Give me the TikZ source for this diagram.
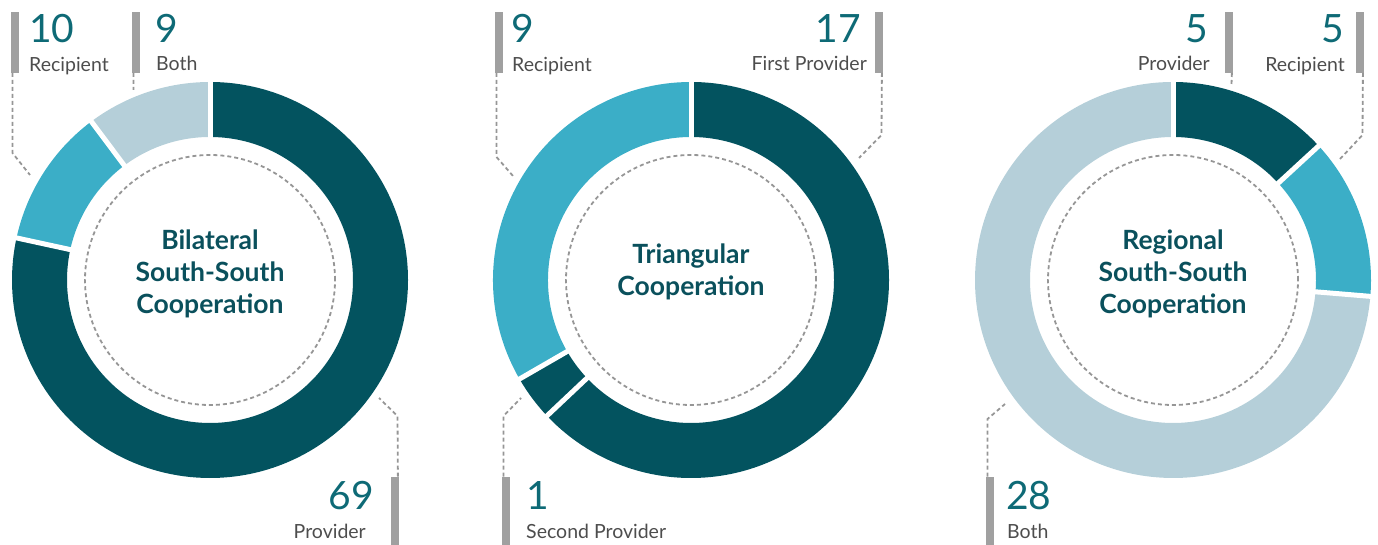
\documentclass[tikz,border=0pt]{standalone}
\usepackage{fontspec}
\setmainfont{Lato}[BoldFeatures={Ligatures=Rare}]
\usepackage{tikz}
\definecolor{ringdark}{HTML}{03535F}
\definecolor{ringmid}{HTML}{3BAEC7}
\definecolor{ringpale}{HTML}{B5CFD9}
\definecolor{titlecol}{HTML}{0A505C}
\definecolor{numcol}{HTML}{0E6A76}
\definecolor{labcol}{HTML}{4D4D4D}
\definecolor{barcol}{HTML}{A0A0A0}
\definecolor{dashcol}{HTML}{969696}
\tikzset{
  seg/.style={line width=55bp},
  cut/.style={white,line width=5bp},
  leader/.style={dashcol,dash pattern=on 4bp off 3bp,line width=1.8bp},
  tbar/.style={fill=barcol,inner sep=0pt,minimum width=8bp,minimum height=61bp,anchor=south west},
  bbar/.style={fill=barcol,inner sep=0pt,minimum width=8bp,minimum height=68bp,anchor=south west},
  num/.style={numcol,inner sep=0pt,font=\fontsize{39bp}{39bp}\selectfont},
  lab/.style={labcol,inner sep=0pt,font=\fontsize{19.5bp}{20bp}\selectfont},
  title/.style={titlecol,align=center,inner sep=0pt,font=\fontsize{26.5bp}{32bp}\selectfont\bfseries}
}
\begin{document}
\begin{tikzpicture}[x=1bp,y=1bp]
%\draw (0,0) grid[step=50] (1378,545);
\useasboundingbox (0,0) rectangle (1378,545);
\coordinate (c1) at (210,265);
\coordinate (c2) at (691,265);
\coordinate (c3) at (1173,265);

% bilateral ring
\draw[seg,ringdark] (c1) ++(90:170.5) arc[start angle=90,end angle=-192.27,radius=170.5];
\draw[seg,ringmid] (c1) ++(167.73:170.5) arc[start angle=167.73,end angle=126.82,radius=170.5];
\draw[seg,ringpale] (c1) ++(126.82:170.5) arc[start angle=126.82,end angle=90,radius=170.5];
\draw[cut] (c1) ++(90:140) -- ++(90:62);
\draw[cut] (c1) ++(167.73:140) -- ++(167.73:62);
\draw[cut] (c1) ++(126.82:140) -- ++(126.82:62);
\draw[leader] (c1) circle[radius=125];
\node[title] (t1) at ([yshift=6bp]c1) {Bilateral\\South-South\\Cooperation};

% triangular ring
\draw[seg,ringdark] (c2) ++(90:170.5) arc[start angle=90,end angle=-136.67,radius=170.5];
\draw[seg,ringdark] (c2) ++(-136.67:170.5) arc[start angle=-136.67,end angle=-150,radius=170.5];
\draw[seg,ringmid] (c2) ++(210:170.5) arc[start angle=210,end angle=90,radius=170.5];
\draw[cut] (c2) ++(90:140) -- ++(90:62);
\draw[cut] (c2) ++(-136.67:140) -- ++(-136.67:62);
\draw[cut] (c2) ++(210:140) -- ++(210:62);
\draw[leader] (c2) circle[radius=125];
\node[title] (t2) at ([yshift=8bp]c2) {Triangular\\Cooperation};

% regional ring
\draw[seg,ringdark] (c3) ++(90:170.5) arc[start angle=90,end angle=42.63,radius=170.5];
\draw[seg,ringmid] (c3) ++(42.63:170.5) arc[start angle=42.63,end angle=-4.74,radius=170.5];
\draw[seg,ringpale] (c3) ++(-4.74:170.5) arc[start angle=-4.74,end angle=-270,radius=170.5];
\draw[cut] (c3) ++(90:140) -- ++(90:62);
\draw[cut] (c3) ++(42.63:140) -- ++(42.63:62);
\draw[cut] (c3) ++(-4.74:140) -- ++(-4.74:62);
\draw[leader] (c3) circle[radius=125];
\node[title] (t3) at ([yshift=6bp]c3) {Regional\\South-South\\Cooperation};

% bilateral labels
\node[tbar] (b1) at (11,472) {};
\node[num,anchor=base west] (n1) at (29,502) {10};
\node[lab,anchor=base west] (l1) at (29,473) {Recipient};
\coordinate (k1) at (12.5,392);
\coordinate (e1) at (30,370);
\draw[leader] ([xshift=1.5bp]b1.south west) -- (k1) -- (e1);
\node[tbar] (b2) at (132,472) {};
\node[num,anchor=base west] (n2) at (155,502) {9};
\node[lab,anchor=base west] (l2) at (156,474) {Both};
\coordinate (e2) at (133.5,455);
\draw[leader] ([xshift=1.5bp]b2.south west) -- (e2);
\node[bbar] (b3) at (391,0) {};
\node[num,anchor=base east] (n3) at (374,35) {69};
\node[lab,anchor=base east] (l3) at (366,6) {Provider};
\coordinate (k3) at (397.5,129);
\coordinate (e3) at (379,147);
\draw[leader] ([xshift=-1.5bp]b3.north east) -- (k3) -- (e3);

% triangular labels
\node[tbar] (b4) at (495,472) {};
\node[num,anchor=base west] (n4) at (511,502) {9};
\node[lab,anchor=base west] (l4) at (512,473) {Recipient};
\coordinate (k4) at (496.5,388);
\coordinate (e4) at (513,369);
\draw[leader] ([xshift=1.5bp]b4.south west) -- (k4) -- (e4);
\node[tbar] (b5) at (875,472) {};
\node[num,anchor=base east] (n5) at (861,502) {17};
\node[lab,anchor=base east] (l5) at (867,474) {First Provider};
\coordinate (k5) at (881.5,410);
\coordinate (e5) at (859,387);
\draw[leader] ([xshift=-1.5bp]b5.south east) -- (k5) -- (e5);
\node[bbar] (b6) at (502,0) {};
\node[num,anchor=base west] (n6) at (526,35) {1};
\node[lab,anchor=base west] (l6) at (526,6) {Second Provider};
\coordinate (k6) at (503.5,129);
\coordinate (e6) at (521,147);
\draw[leader] ([xshift=1.5bp]b6.north west) -- (k6) -- (e6);

% regional labels
\node[tbar] (b7) at (1225,472) {};
\node[num,anchor=base east] (n7) at (1208,502) {5};
\node[lab,anchor=base east] (l7) at (1210,474) {Provider};
\coordinate (e7) at (1231.5,461);
\draw[leader] ([xshift=-1.5bp]b7.south east) -- (e7);
\node[bbar] (b8) at (986,0) {};
\node[num,anchor=base west] (n8) at (1006,35) {28};
\node[lab,anchor=base west] (l8) at (1007,6) {Both};
\coordinate (k8) at (987.5,126);
\coordinate (e8) at (1005,141);
\draw[leader] ([xshift=1.5bp]b8.north west) -- (k8) -- (e8);
\node[tbar] (b9) at (1356,472) {};
\node[num,anchor=base east] (n9) at (1344,502) {5};
\node[lab,anchor=base east] (l9) at (1345,473) {Recipient};
\coordinate (k9) at (1362.5,410);
\coordinate (e9) at (1340,386);
\draw[leader] ([xshift=-1.5bp]b9.south east) -- (k9) -- (e9);
\end{tikzpicture}
\end{document}
